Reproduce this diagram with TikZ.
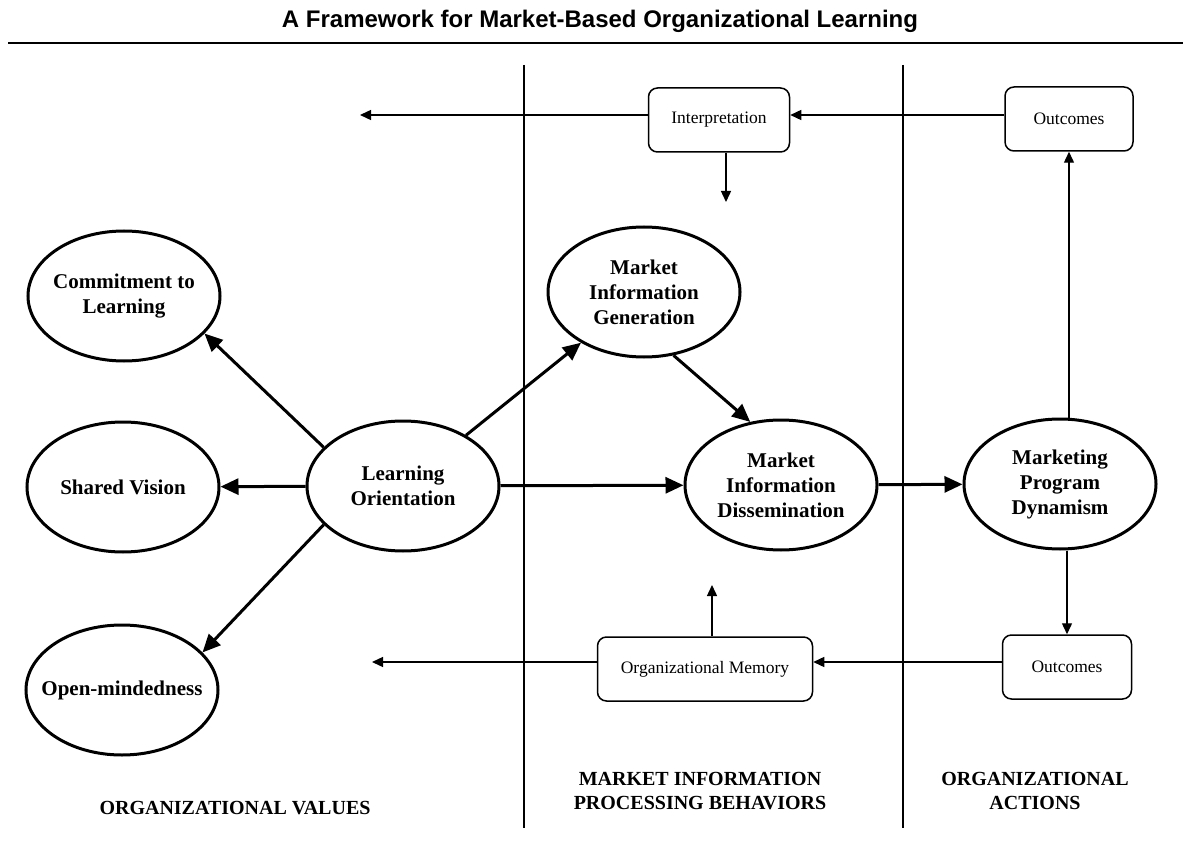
\documentclass[tikz,border=0pt]{standalone}
\usepackage{fontspec}
\setmainfont{Liberation Serif}
\newfontfamily\titlefont{Liberation Sans}
\usetikzlibrary{shapes.geometric,arrows.meta}
\tikzset{
  value/.style={ellipse,draw,line width=3pt,minimum width=192pt,minimum height=130pt,inner xsep=-20pt,inner ysep=0pt,align=center,font=\fontsize{21}{25}\selectfont\bfseries},
  memo/.style={draw,rounded corners=9pt,line width=1.5pt,minimum height=64pt,inner sep=0pt,font=\fontsize{17.5}{20}\selectfont},
  strong/.style={line width=3pt,-{Triangle[length=18pt,width=16pt]}},
  weak/.style={line width=1.4pt,-{Triangle[length=11pt,width=10pt]}},
  column/.style={font=\fontsize{20}{24}\selectfont\bfseries,align=center}
}

\begin{document}
\begin{tikzpicture}[x=1pt,y=-1pt]
  \useasboundingbox (0,0) rectangle (1183,850);
  \node[font=\titlefont\fontsize{24}{28}\selectfont\bfseries] (title) at (600,21) {A Framework for Market-Based Organizational Learning};
  \draw[line width=2.6pt] (8,43) -- (1183,43);
  \draw[line width=1.2pt] (524,65) -- (524,828) (903,65) -- (903,828);

  \node[value] (commit) at (124,296) {Commitment to\\Learning};
  \node[value] (vision) at (123,487) {Shared Vision};
  \node[value] (open) at (122,690) {Open-mindedness};
  \node[value] (orient) at (403,486) {Learning\\Orientation};
  \node[value] (generate) at (644,292) {Market\\Information\\Generation};
  \node[value] (spread) at (781,485) {Market\\Information\\Dissemination};
  \node[value] (dynamism) at (1060,484) {Marketing\\Program\\Dynamism};

  \node[memo,minimum width=141pt] (interp) at (719,120) {Interpretation};
  \node[memo,minimum width=128pt] (outtop) at (1069,119) {Outcomes};
  \node[memo,minimum width=215pt] (memory) at (705,669) {Organizational Memory};
  \node[memo,minimum width=129pt] (outbot) at (1067,667) {Outcomes};

  \coordinate (backtop) at (360,115);
  \coordinate (interpdown) at (726,202);
  \coordinate (backbot) at (372,662);
  \coordinate (memoryup) at (712,585);

  \draw[strong] (orient.154) -- (commit.-25);
  \draw[strong] (orient) -- (vision);
  \draw[strong] (orient.206) -- (open.25);
  \draw[strong] (orient) -- (generate);
  \draw[strong] (orient) -- (spread);
  \draw[strong] (generate.-65) -- (spread.116);
  \draw[strong] (spread) -- (dynamism);

  \draw[weak] (outtop.west |- backtop) -- (interp.east |- backtop);
  \draw[weak] (interp.west |- backtop) -- (backtop);
  \draw[weak] (interp.south -| interpdown) -- (interpdown);
  \draw[weak] (dynamism.north -| outtop) -- (outtop.south);
  \draw[weak] (dynamism.south -| outbot) -- (outbot.north);
  \draw[weak] (outbot.west |- backbot) -- (memory.east |- backbot);
  \draw[weak] (memory.west |- backbot) -- (backbot);
  \draw[weak] (memory.north -| memoryup) -- (memoryup);

  \node[column] (values) at (235,808) {ORGANIZATIONAL VALUES};
  \node[column] (behaviors) at (700,791) {MARKET INFORMATION\\PROCESSING BEHAVIORS};
  \node[column] (actions) at (1035,791) {ORGANIZATIONAL\\ACTIONS};
\end{tikzpicture}
\end{document}
